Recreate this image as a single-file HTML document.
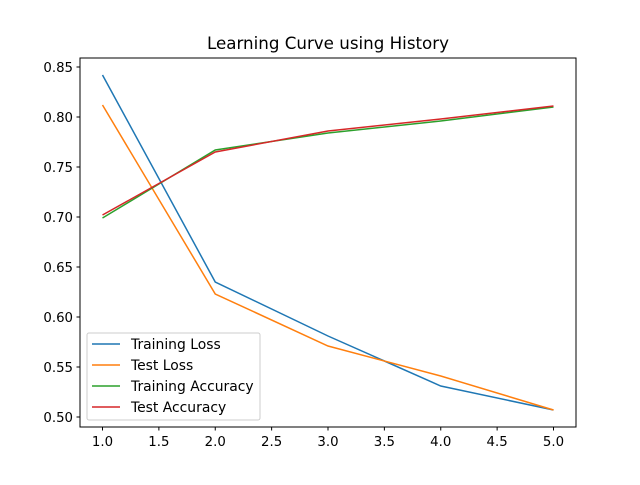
<!DOCTYPE html>
<html><head><meta charset="utf-8"><style>
body{margin:0;background:#fff;}
svg{font-family:"DejaVu Sans","Liberation Sans",sans-serif;}
</style></head><body>
<svg id="chart" width="640" height="480" xmlns="http://www.w3.org/2000/svg">
<rect width="640" height="480" fill="#fff"/>
<text x="328" y="49" text-anchor="middle" font-size="16.7">Learning Curve using History</text>
<g id="marks"></g>
<rect x="80" y="58" width="496" height="369" fill="none" stroke="#000" stroke-width="1"/>
<g id="axes"></g>
<g id="legend"></g>
</svg>
<script>
const epochs=[1,2,3,4,5];
const trainingLoss=[0.842,0.635,0.581,0.531,0.507];
const testLoss=[0.812,0.623,0.571,0.541,0.507];
const trainingAcc=[0.699,0.767,0.784,0.796,0.810];
const testAcc=[0.702,0.765,0.786,0.798,0.811];
const xTicks=["1.0","1.5","2.0","2.5","3.0","3.5","4.0","4.5","5.0"];
const yTicks=["0.50","0.55","0.60","0.65","0.70","0.75","0.80","0.85"];
const seriesNames=["Training Loss","Test Loss","Training Accuracy","Test Accuracy"];
const seriesData=[trainingLoss,testLoss,trainingAcc,testAcc];
const colors=["#1f77b4","#ff7f0e","#2ca02c","#d62728"];
const NS="http://www.w3.org/2000/svg";
const xs=v=>102.5+(v-1)*112.75;
const ys=v=>417-(v-0.5)*1000;
function mk(t,a,p){const e=document.createElementNS(NS,t);for(const k in a)e.setAttribute(k,a[k]);p.appendChild(e);return e;}
const axes=document.getElementById('axes');
xTicks.forEach(t=>{const x=xs(parseFloat(t));
 const l=mk('line',{x1:x,x2:x,y1:427,y2:430.5,stroke:'#000'},axes);
 
 
 const tx=mk('text',{x:x,y:446,'text-anchor':'middle','font-size':'13.3'},axes);tx.textContent=t;
 
 });
yTicks.forEach(t=>{const y=ys(parseFloat(t));
 const l=mk('line',{x1:76.5,x2:80,y1:y,y2:y,stroke:'#000'},axes);
 
 
 const tx=mk('text',{x:73,y:y+5,'text-anchor':'end','font-size':'13.3'},axes);tx.textContent=t;
 
 });
const marks=document.getElementById('marks');
seriesData.forEach((d,i)=>{const pts=d.map((v,j)=>xs(epochs[j])+','+ys(v)).join(' ');
 const p=mk('polyline',{points:pts,fill:'none',stroke:colors[i],'stroke-width':1.5},marks);
 
 });
const lg=document.getElementById('legend');
const box=mk('rect',{x:87,y:333,width:173,height:87,rx:2,fill:'#fff',stroke:'#ccc','fill-opacity':0.8},lg);


seriesNames.forEach((n,i)=>{const y=344+i*21;
 const l=mk('line',{x1:92,x2:120,y1:y,y2:y,stroke:colors[i],'stroke-width':1.5},lg);
 
 
 const t=mk('text',{x:131,y:y+5,'font-size':'13.9'},lg);t.textContent=n;
 
 });
</script>
</body></html>
